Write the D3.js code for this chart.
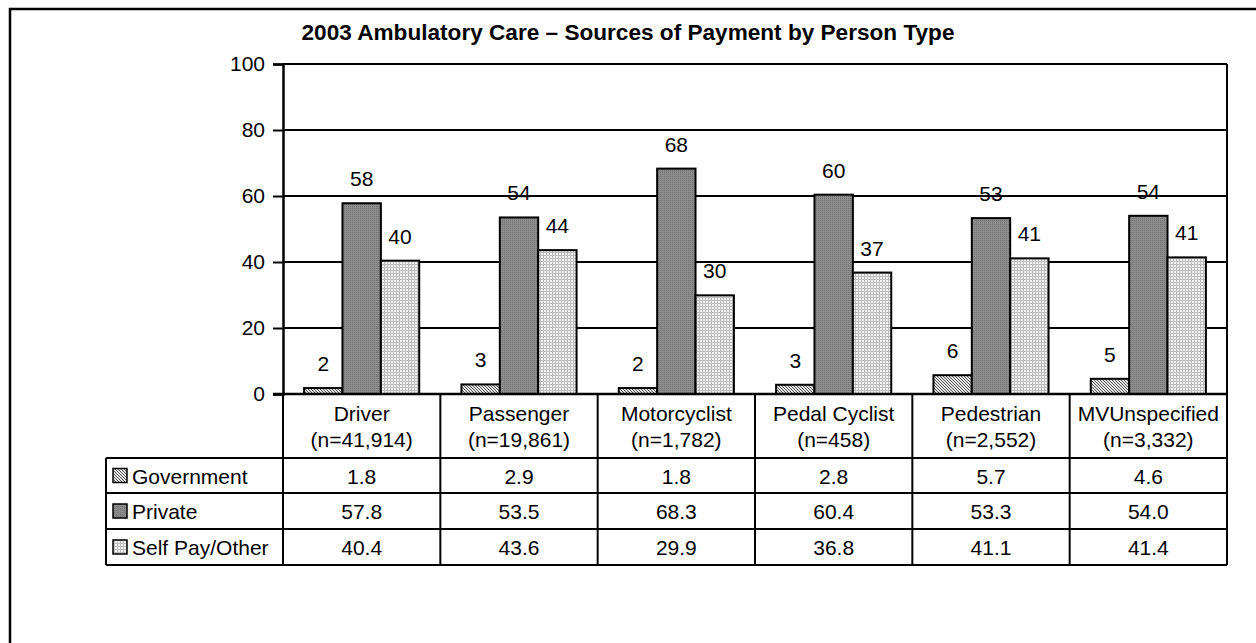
<!DOCTYPE html>
<html><head><meta charset="utf-8">
<script src="https://cdn.jsdelivr.net/npm/d3@7"></script>
<style>body{margin:0;background:#fff}svg{display:block;font-family:"Liberation Sans",Arial,sans-serif}</style>
</head><body>
<svg id="c" width="1256" height="643"></svg>
<script>
const title = "2003 Ambulatory Care \u2013 Sources of Payment by Person Type";
const categories = ["Driver","Passenger","Motorcyclist","Pedal Cyclist","Pedestrian","MVUnspecified"];
const counts = ["(n=41,914)","(n=19,861)","(n=1,782)","(n=458)","(n=2,552)","(n=3,332)"];
const seriesNames = ["Government","Private","Self Pay/Other"];
const government = [1.8,2.9,1.8,2.8,5.7,4.6];
const privateVals = [57.8,53.5,68.3,60.4,53.3,54.0];
const selfPay = [40.4,43.6,29.9,36.8,41.1,41.4];
const yTicks = [0,20,40,60,80,100];

(function(){
const FS = 21;
const series = [government, privateVals, selfPay];
const svg = d3.select("#c");
const defs = svg.append("defs");
const p1 = defs.append("pattern").attr("id","pGov").attr("width",3).attr("height",3).attr("patternUnits","userSpaceOnUse");
p1.append("rect").attr("width",3).attr("height",3).attr("fill","#e6e6e6");
p1.append("path").attr("d","M0,0 L3,3 M-1,2 L1,4 M2,-1 L4,1").attr("stroke","#444").attr("stroke-width",0.9);
const p2 = defs.append("pattern").attr("id","pPriv").attr("width",2).attr("height",2).attr("patternUnits","userSpaceOnUse");
p2.append("rect").attr("width",2).attr("height",2).attr("fill","#8c8c8c");
p2.append("rect").attr("width",1).attr("height",1).attr("fill","#747474");
const p3 = defs.append("pattern").attr("id","pSelf").attr("width",3).attr("height",3).attr("patternUnits","userSpaceOnUse");
p3.append("rect").attr("width",3).attr("height",3).attr("fill","#f2f2f2");
p3.append("path").attr("d","M0,0.5 H3 M0.5,0 V3").attr("stroke","#bdbdbd").attr("stroke-width",1);
const fills = ["url(#pGov)","url(#pPriv)","url(#pSelf)"];

svg.append("rect").attr("x",10).attr("y",9).attr("width",1300).attr("height",700)
  .attr("fill","none").attr("stroke","#000").attr("stroke-width",2.5);

const pl = 283, pr = 1227, pt = 64, pb = 394;
const x = d3.scaleBand().domain(categories).range([pl,pr]).paddingInner(0).paddingOuter(0);
const y = d3.scaleLinear().domain([0,100]).range([pb,pt]);
const xs = d3.scaleBand().domain(d3.range(3)).range([0,x.bandwidth()]).paddingInner(0).paddingOuter(0.55);

svg.append("text").attr("x",628).attr("y",40).attr("text-anchor","middle")
  .attr("font-weight","bold").attr("font-size",22.6).text(title);

svg.append("g").selectAll("line").data(yTicks.slice(1)).join("line")
  .attr("x1",pl).attr("x2",pr).attr("y1",d=>y(d)).attr("y2",d=>y(d))
  .attr("stroke","#000").attr("stroke-width",2);
svg.append("line").attr("x1",pr).attr("x2",pr).attr("y1",pt).attr("y2",pb).attr("stroke","#000").attr("stroke-width",2);

const yAxis = d3.axisLeft(y).tickValues(yTicks).tickSize(10).tickPadding(8);
const ga = svg.append("g").attr("transform",`translate(${pl},0)`).call(yAxis);
ga.select(".domain").attr("stroke-width",2.5);
ga.selectAll(".tick line").attr("stroke-width",2);
ga.selectAll("text").attr("font-size",FS).attr("font-family","Liberation Sans, Arial, sans-serif").attr("fill","#000");

categories.forEach((c,ci)=>{
  series.forEach((s,si)=>{
    const v = s[ci];
    const bx = x(c)+xs(si), bw = xs.bandwidth();
    svg.append("rect").attr("x",bx).attr("y",y(v)).attr("width",bw).attr("height",pb-y(v))
      .attr("fill",fills[si]).attr("stroke","#000").attr("stroke-width",2);
    svg.append("text").attr("x",bx+bw/2).attr("y",y(v)-17).attr("text-anchor","middle")
      .attr("font-size",FS).text(Math.round(v));
  });
});
svg.append("line").attr("x1",pl-10).attr("x2",pr).attr("y1",pb).attr("y2",pb).attr("stroke","#000").attr("stroke-width",2.5);

const rowTops = [458,493,529,565];
const tableLeft = 106;
const g = svg.append("g").attr("stroke","#000").attr("stroke-width",2);
x.domain().forEach(c=>{
  g.append("line").attr("x1",x(c)).attr("x2",x(c)).attr("y1",pb).attr("y2",rowTops[3]);
});
g.append("line").attr("x1",pr).attr("x2",pr).attr("y1",pb).attr("y2",rowTops[3]);
g.append("line").attr("x1",tableLeft).attr("x2",tableLeft).attr("y1",rowTops[0]).attr("y2",rowTops[3]);
rowTops.forEach(t=>{
  g.append("line").attr("x1",tableLeft).attr("x2",pr).attr("y1",t).attr("y2",t);
});
categories.forEach((c,ci)=>{
  const cx = x(c)+x.bandwidth()/2;
  svg.append("text").attr("x",cx).attr("y",421).attr("text-anchor","middle").attr("font-size",FS).text(c);
  svg.append("text").attr("x",cx).attr("y",447).attr("text-anchor","middle").attr("font-size",FS).text(counts[ci]);
});
seriesNames.forEach((n,si)=>{
  const t = rowTops[si], b = rowTops[si+1], cy = (t+b)/2;
  svg.append("rect").attr("x",113).attr("y",cy-7).attr("width",14).attr("height",14)
    .attr("fill",fills[si]).attr("stroke","#000").attr("stroke-width",1.5);
  svg.append("text").attr("x",132).attr("y",cy+8).attr("font-size",FS).text(n);
  categories.forEach((c,ci)=>{
    svg.append("text").attr("x",x(c)+x.bandwidth()/2).attr("y",cy+8).attr("text-anchor","middle")
      .attr("font-size",FS).text(series[si][ci].toFixed(1));
  });
});
})();
</script>
</body></html>
